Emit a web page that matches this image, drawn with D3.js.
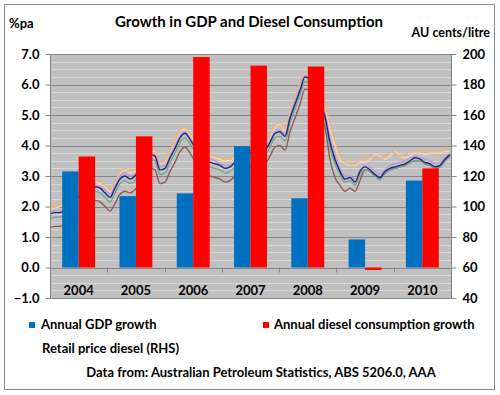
<!DOCTYPE html>
<html><head><meta charset="utf-8">
<script src="https://cdn.jsdelivr.net/npm/d3@7"></script>
<style>body{margin:0;background:#fff}svg{display:block}text{font-family:Lato,"Open Sans",sans-serif;font-weight:bold;fill:#000}</style>
</head><body><svg id="c" width="500" height="395"></svg>
<script>
const years = ["2004","2005","2006","2007","2008","2009","2010"];
const gdpGrowth = [3.15, 2.34, 2.43, 3.98, 2.27, 0.92, 2.85];
const dieselGrowth = [3.64, 4.30, 6.90, 6.62, 6.59, -0.08, 3.25];
const leftTicks = [-1,0,1,2,3,4,5,6,7];
const rightTicks = [40,60,80,100,120,140,160,180,200];

// Retail price diesel (cents/litre), several series, evenly spaced through the period
const priceNavy = [95,96,96,98,101,104,107,110,112,113,
112,109,106,112,118,120,118,120,125,130,
134,133,124,125,132,138,145,148,144,139,
136,133,129,128,127,125,126,129,133,134,
135,136,136,137,142,148,149,146,158,167,
176,185,183,175,167,159,142,131,123,118,
119,116,123,126,124,121,119,123,125,126,
127,128,130,132,131,129,128,126,127,131,134];
const pricePurple = [96,97,97,99,102,105,108,111,113,114,
113,111,108,114,120,122,120,121,126,131,
135,134,126,127,133,140,146,149,145,141,
137,134,131,130,128,127,127,130,134,135,
136,137,137,138,143,149,150,147,159,169,
178,186,184,177,169,161,145,133,125,120,
120,118,124,127,126,123,121,124,127,128,
129,130,132,133,132,131,130,128,129,132,135];
const priceOrange = [100,100,101,103,106,109,112,114,116,117,
116,114,111,116,123,125,123,124,129,134,
138,137,129,130,137,143,150,152,148,144,
141,138,134,133,132,131,131,134,138,139,
140,141,141,142,147,153,155,151,162,172,
181,188,187,182,176,168,154,143,133,129,
128,128,131,132,133,132,131,133,136,135,
133,134,136,137,137,137,136,136,137,138,138];
const pricePeach = [99,99,100,102,105,108,111,113,115,116,
115,113,110,115,122,124,122,123,128,133,
137,136,128,129,136,142,149,151,147,143,
140,137,133,132,131,130,130,133,137,138,
139,140,140,141,146,152,154,150,161,171,
180,187,186,181,174,166,151,140,131,128,
127,127,129,129,131,134,133,131,133,136,
133,132,133,135,135,134,135,135,135,136,136];
const priceGreen = [92,93,93,95,98,101,104,107,109,110,
109,106,103,109,115,117,115,117,122,127,
131,130,121,122,129,135,142,145,141,136,
133,130,126,125,124,122,123,126,130,131,
132,133,133,134,139,145,146,143,155,164,
173,182,180,172,164,156,139,128,121,116,
117,114,121,124,123,120,118,122,124,125,
126,127,129,130,130,128,127,125,126,130,133];
const priceBrown = [86,87,87,89,92,95,98,101,103,104,
103,100,97,102,108,110,109,111,116,121,
125,124,115,116,123,129,136,139,135,130,
127,124,120,119,118,116,117,120,124,125,
126,127,127,128,133,139,140,137,149,158,
167,177,176,168,160,152,131,119,114,110,
112,110,117,124,123,120,118,122,124,125,
126,127,129,130,130,128,127,125,126,130,133];

const svg = d3.select("#c");
const L = 50, R = 451, T = 54, B = 298;

svg.append("rect").attr("x",4.5).attr("y",4.5).attr("width",490).attr("height",385)
  .attr("fill","#fff").attr("stroke","#8a8a8a").attr("stroke-width",1);

const yL = d3.scaleLinear().domain([-1,7]).range([B,T]);
const yR = d3.scaleLinear().domain([40,200]).range([B,T]);
const x0 = d3.scaleBand().domain(years).range([L,R]).padding(0);
const x1 = d3.scaleBand().domain(["gdp","diesel"]).range([0,x0.bandwidth()]).paddingInner(0).paddingOuter(0.74);
const xl = d3.scaleLinear().domain([0, priceNavy.length-1]).range([L,450]);

svg.append("rect").attr("x",L).attr("y",T).attr("width",R-L).attr("height",B-T).attr("fill","#c0c0c0");
const minor = d3.range(-1,7.001,0.25).filter(v=>Math.abs(v-Math.round(v))>0.01);
svg.append("g").selectAll("line").data(minor).join("line")
  .attr("x1",L).attr("x2",R).attr("y1",d=>Math.round(yL(d))+0.5).attr("y2",d=>Math.round(yL(d))+0.5)
  .attr("stroke","#d6d6d6").attr("stroke-width",1);
svg.append("g").selectAll("line").data(leftTicks).join("line")
  .attr("x1",L).attr("x2",R).attr("y1",d=>Math.round(yL(d))+0.5).attr("y2",d=>Math.round(yL(d))+0.5)
  .attr("stroke","#868686").attr("stroke-width",1);

const line = d3.line().x((d,i)=>xl(i)).y(d=>yR(d)).curve(d3.curveMonotoneX);
const series = [
  {v:priceBrown,c:"#8e5b55"},
  {v:priceGreen,c:"#6fa88c"},
  {v:pricePeach,c:"#fbd3ad"},
  {v:priceOrange,c:"#e9b47e"},
  {v:pricePurple,c:"#b99be0"},
  {v:priceNavy,c:"#25267a"}
];
svg.append("g").selectAll("path").data(series).join("path")
  .attr("d",d=>line(d.v)).attr("fill","none").attr("stroke",d=>d.c).attr("stroke-width",1.4);

const g = svg.append("g");
years.forEach((yr,i)=>{
  [["gdp",gdpGrowth[i],"#0070c0"],["diesel",dieselGrowth[i],"#ff0000"]].forEach(([k,v,c])=>{
    g.append("rect").attr("x",x0(yr)+x1(k)).attr("width",x1.bandwidth())
      .attr("y",yL(Math.max(0,v))).attr("height",Math.abs(yL(v)-yL(0))).attr("fill",c);
  });
});

const axL = d3.axisLeft(yL).tickValues(leftTicks).tickSize(5).tickFormat(d3.format(".1f"));
const axR = d3.axisRight(yR).tickValues(rightTicks).tickSize(5);
const gl = svg.append("g").attr("transform",`translate(${L+0.5},0)`).call(axL);
const gr = svg.append("g").attr("transform",`translate(${R+0.5},0)`).call(axR);
[gl,gr].forEach(a=>{
  a.selectAll("path,line").attr("stroke","#868686");
  a.select(".domain").attr("d", `M0,${T}V${B}`);
  a.selectAll("text").style("font-size","13px").style("font-family","Lato").style("font-weight","bold").attr("fill","#000");
});
gl.selectAll("text").attr("x",-11);
gr.selectAll("text").attr("x",11);
svg.append("line").attr("x1",L).attr("x2",R+0.5).attr("y1",B+0.5).attr("y2",B+0.5).attr("stroke","#868686");
svg.append("g").selectAll("line").data(years.slice(1)).join("line")
  .attr("x1",d=>Math.round(x0(d))+0.5).attr("x2",d=>Math.round(x0(d))+0.5)
  .attr("y1",yL(0)).attr("y2",yL(0)+5).attr("stroke","#868686");
svg.append("g").selectAll("text").data(years).join("text")
  .attr("x",d=>x0(d)+x0.bandwidth()/2).attr("y",295).attr("text-anchor","middle")
  .style("font-size","13px").text(d=>d);

svg.append("text").attr("x",249).attr("y",27).attr("text-anchor","middle").style("font-size","15px").text("Growth in GDP and Diesel  Consumption");
svg.append("text").attr("x",9).attr("y",28).style("font-size","13px").text("%pa");
svg.append("text").attr("x",490).attr("y",37).attr("text-anchor","end").style("font-size","12.5px").text("AU cents/litre");

svg.append("rect").attr("x",29).attr("y",322).attr("width",6).attr("height",6).attr("fill","#0070c0");
svg.append("text").attr("x",41).attr("y",329).style("font-size","13px").text("Annual GDP growth");
svg.append("rect").attr("x",263).attr("y",322).attr("width",6).attr("height",6).attr("fill","#ff0000");
svg.append("text").attr("x",274).attr("y",329).style("font-size","13px").text("Annual diesel consumption growth");
svg.append("text").attr("x",42).attr("y",353).style("font-size","13px").text("Retail price diesel (RHS)");
svg.append("text").attr("x",261).attr("y",377).attr("text-anchor","middle").style("font-size","13px").text("Data from:  Australian Petroleum Statistics, ABS 5206.0, AAA");
</script></body></html>
